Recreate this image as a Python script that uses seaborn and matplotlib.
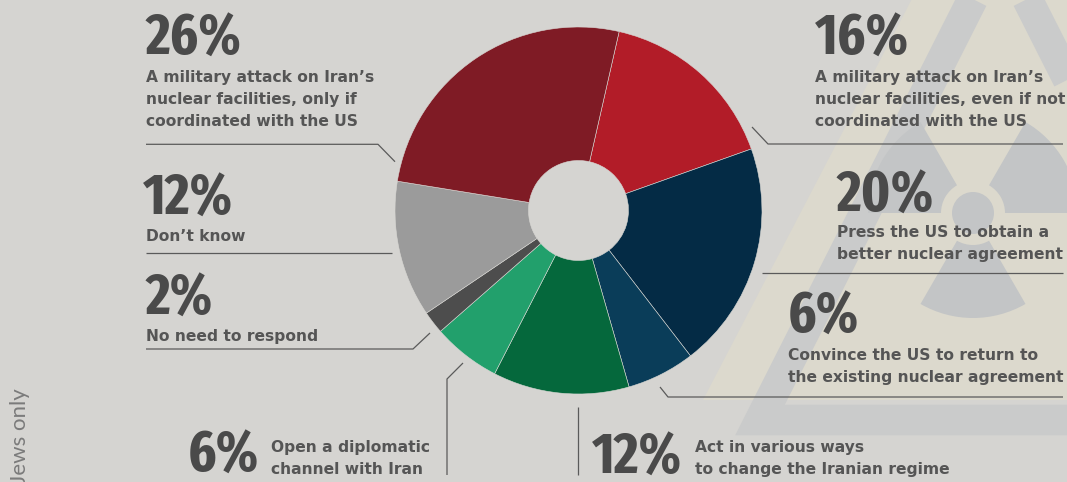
import matplotlib
matplotlib.use("Agg")
import matplotlib.pyplot as plt
from matplotlib import font_manager as fm
from matplotlib.patches import Polygon, Wedge, Circle
import seaborn as sns

# Survey answers, clockwise from the top of the ring
shares = [16, 20, 6, 12, 6, 2, 12, 26]
answers = [
    "A military attack on Iran’s\nnuclear facilities, even if not\ncoordinated with the US",
    "Press the US to obtain a\nbetter nuclear agreement",
    "Convince the US to return to\nthe existing nuclear agreement",
    "Act in various ways\nto change the Iranian regime",
    "Open a diplomatic\nchannel with Iran",
    "No need to respond",
    "Don’t know",
    "A military attack on Iran’s\nnuclear facilities, only if\ncoordinated with the US",
]
slice_hex = ["#b21c28", "#042b45", "#0a3d59", "#05683c",
             "#22a06c", "#4d4d4d", "#9b9b9b", "#7f1b25"]
side_note = "Jews only"

BG = "#d5d4d1"
INK = "#4a4a4a"
TEXT = "#555555"
RULE = "#5a5a5a"

sns.set_theme(style="white")
palette = sns.color_palette(slice_hex)
plt.rcParams["font.family"] = ["DejaVu Sans"]


def pick_narrow_bold():
    """Find a bold condensed/narrow face for the big percentages."""
    ranked = []
    for f in fm.fontManager.ttflist:
        path = f.fname.lower().replace("-", "").replace("_", "").replace(" ", "")
        name = f.name.lower()
        key = path + name
        bold = ("bold" in path) or (f.weight in (600, 700, 800, "bold", "semibold"))
        if not bold or "italic" in path or "oblique" in path:
            continue
        if "extracondensed" in key:
            rank = 0
        elif "narrow" in key:
            rank = 1
        elif "semicondensed" in key:
            rank = 3
        elif "condensed" in key:
            rank = 2
        else:
            continue
        if "extrabold" in path or "black" in path:
            rank += 0.5
        ranked.append((rank, f.fname))
    if ranked:
        ranked.sort()
        return fm.FontProperties(fname=ranked[0][1]), ranked[0][0]
    return fm.FontProperties(family="DejaVu Sans", weight="bold"), None


num_prop, num_rank = pick_narrow_bold()
num_size = {0: 42, 0.5: 42, 1: 43, 1.5: 43, 2: 38, 2.5: 38, 3: 33, 3.5: 33}.get(num_rank, 30)
num_prop.set_size(num_size)

W, H = 1067, 482
fig = plt.figure(figsize=(W / 100, H / 100), dpi=100)
fig.patch.set_facecolor(BG)
ax = fig.add_axes([0, 0, 1, 1])
ax.set_facecolor(BG)

# Faded warning sign in the background
ax.add_patch(Polygon([(1000, -170), (703, 400), (1300, 400)], closed=True,
                     facecolor="#dcd9cd", edgecolor="none", zorder=0))
ax.add_patch(Polygon([(1000, -55), (760, 420), (1240, 420)], closed=True,
                     facecolor="none", edgecolor="#cacbcb", linewidth=22,
                     joinstyle="miter", zorder=0.5))
tre_c = (973, 213)
tre_col = "#c3c5c6"
ax.add_patch(Circle(tre_c, 21, facecolor=tre_col, edgecolor="none", zorder=0.6))
for t1, t2 in [(180, 240), (300, 360), (60, 120)]:
    ax.add_patch(Wedge(tre_c, 105, t1, t2, width=73, facecolor=tre_col,
                       edgecolor="none", zorder=0.6))

# Donut ring (y axis runs downward, so angles advance clockwise on screen)
cx, cy, r_out, r_in = 578.5, 210.5, 183.5, 50
ax.pie(shares, colors=palette, startangle=-77.2, counterclock=True,
       radius=r_out, center=(cx, cy), frame=False,
       wedgeprops=dict(width=r_out - r_in, edgecolor="#d9d8d4", linewidth=0.4))

# Label layout: number anchor, first text baseline, leader polyline
layout = [
    dict(num=(815, 55), txt=(815, 81.7), lead=[(752, 127), (768, 144), (1063, 144)]),
    dict(num=(837, 211.7), txt=(837, 236.7), lead=[(762, 272.7), (1063, 272.7)]),
    dict(num=(788, 333), txt=(788, 360), lead=[(660, 387), (668, 397), (1063, 397)]),
    dict(num=(592, 474), txt=(695, 451.7), lead=[(578.3, 406.7), (578.3, 475)]),
    dict(num=(188, 472), txt=(271, 451.7), lead=[(463, 363), (447, 379), (447, 475)]),
    dict(num=(146, 315), txt=(146, 340.7), lead=[(146, 349), (413, 349), (430, 333)]),
    dict(num=(143, 215), txt=(146, 240.7), lead=[(146, 253.3), (392, 253.3)]),
    dict(num=(146, 55), txt=(146, 81.7), lead=[(146, 144.3), (378, 144.3), (395, 161.7)]),
]
line_step = 22.4

for v, label, spec in zip(shares, answers, layout):
    nx, ny = spec["num"]
    ax.text(nx, ny, f"{v}%", ha="left", va="baseline", color=INK,
            fontproperties=num_prop)
    tx, ty = spec["txt"]
    for i, line in enumerate(label.split("\n")):
        ax.text(tx, ty + i * line_step, line, ha="left", va="baseline",
                fontsize=11.2, fontweight="bold", color=TEXT,
                family=["DejaVu Sans"])
    xs, ys = zip(*spec["lead"])
    ax.plot(xs, ys, color=RULE, linewidth=0.9, solid_capstyle="butt")

ax.text(20, 388, side_note, rotation=90, ha="center", va="top",
        fontsize=16, color="#7b7b7b", family=["Lato", "DejaVu Sans"])

ax.set_xlim(0, W)
ax.set_ylim(H, 0)
ax.set_aspect("auto")
ax.axis("off")

fig.savefig("out.png", dpi=100, facecolor=fig.get_facecolor())
